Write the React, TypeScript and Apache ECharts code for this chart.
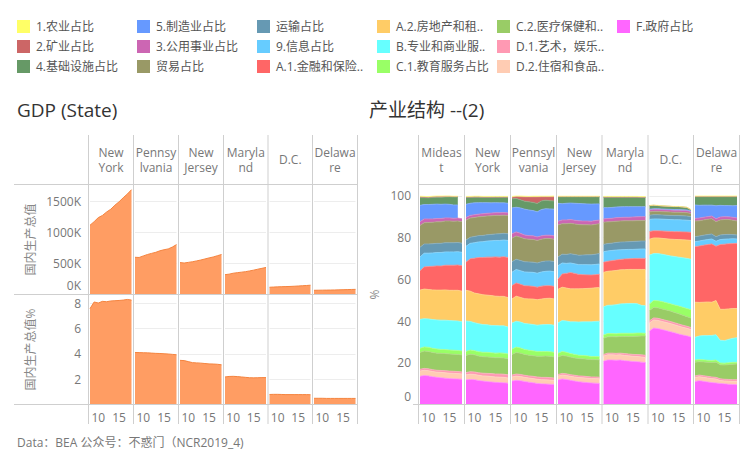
import React, { useEffect, useRef } from 'react';
import * as echarts from 'echarts';

const FONT = "'Open Sans','Noto Sans CJK SC',sans-serif";

// ---------- data ----------
const years = ['2008', '2009', '2010', '2011', '2012', '2013', '2014', '2015', '2016', '2017', '2018'];
const xTickYears = ['2010', '2015'];

// Left: GDP by state (millions of $) and share of US GDP (%)
const gdpStates = ['New\nYork', 'Pennsy\nlvania', 'New\nJersey', 'Maryla\nnd', 'D.C.', 'Delawa\nre'];
const gdpNewYork = [1117000, 1175000, 1240000, 1275000, 1330000, 1375000, 1440000, 1495000, 1560000, 1620000, 1691000];
const gdpPennsylvania = [600000, 597000, 622000, 645000, 663000, 680000, 705000, 722000, 735000, 765000, 805000];
const gdpNewJersey = [515000, 508000, 518000, 528000, 542000, 556000, 573000, 590000, 605000, 625000, 645000];
const gdpMaryland = [320000, 328000, 343000, 352000, 360000, 368000, 380000, 393000, 408000, 422000, 436000];
const gdpDC = [117000, 120000, 123000, 126000, 128000, 130000, 133000, 137000, 141000, 145000, 150000];
const gdpDelaware = [68000, 69000, 70000, 71000, 72000, 73000, 75000, 77000, 79000, 81000, 83000];
const gdpValues = [gdpNewYork, gdpPennsylvania, gdpNewJersey, gdpMaryland, gdpDC, gdpDelaware];

const pctNewYork = [7.56, 8.08, 8.0, 8.13, 8.1, 8.16, 8.18, 8.2, 8.23, 8.28, 8.23];
const pctPennsylvania = [4.1, 4.09, 4.08, 4.07, 4.05, 4.03, 4.02, 4.0, 3.98, 3.95, 3.92];
const pctNewJersey = [3.48, 3.46, 3.38, 3.3, 3.28, 3.26, 3.23, 3.2, 3.19, 3.17, 3.13];
const pctMaryland = [2.17, 2.21, 2.22, 2.2, 2.17, 2.14, 2.11, 2.1, 2.11, 2.12, 2.12];
const pctDC = [0.79, 0.8, 0.8, 0.79, 0.78, 0.78, 0.78, 0.78, 0.78, 0.78, 0.77];
const pctDelaware = [0.49, 0.49, 0.49, 0.48, 0.48, 0.48, 0.48, 0.48, 0.48, 0.48, 0.48];
const pctValues = [pctNewYork, pctPennsylvania, pctNewJersey, pctMaryland, pctDC, pctDelaware];

// Right: industry structure (%)
const regionHeaders = ['Mideas\nt', 'New\nYork', 'Pennsyl\nvania', 'New\nJersey', 'Maryla\nnd', 'D.C.', 'Delawa\nre'];
const categories = [
  '1.农业占比', '2.矿业占比', '4.基础设施占比', '5.制造业占比', '3.公用事业占比', '贸易占比',
  '运输占比', '9.信息占比', 'A.1.金融和保险占比', 'A.2.房地产和租赁占比', 'B.专业和商业服务占比',
  'C.1.教育服务占比', 'C.2.医疗保健和社会援助占比', 'D.1.艺术，娱乐和休闲占比', 'D.2.住宿和食品服务占比', 'F.政府占比',
];
const legendLabels = [
  '1.农业占比', '2.矿业占比', '4.基础设施占比', '5.制造业占比', '3.公用事业占比', '贸易占比',
  '运输占比', '9.信息占比', 'A.1.金融和保险..', 'A.2.房地产和租..', 'B.专业和商业服..',
  'C.1.教育服务占比', 'C.2.医疗保健和..', 'D.1.艺术，娱乐..', 'D.2.住宿和食品..', 'F.政府占比',
];
const categoryColors = [
  '#FFFF66', '#CC6666', '#669966', '#6699FF', '#CC66B3', '#999966',
  '#6699B3', '#66CCFF', '#FF6666', '#FFCC66', '#66FFFF',
  '#99FF66', '#99CC66', '#FF99B3', '#FFCCB3', '#FF66FF',
];

// each row follows the order of `categories`
const shareMideast = [
  [0.3, 0.3, 0.3, 0.3, 0.3, 0.3, 0.2, 0.2, 0.2, 0.2, null],
  [0.4, 0.3, 0.3, 0.3, 0.3, 0.3, 0.3, 0.2, 0.2, 0.2, null],
  [3.7, 3.3, 3.2, 3.3, 3.3, 3.4, 3.4, 3.6, 3.8, 3.8, null],
  [7.8, 6.9, 6.9, 7.0, 6.9, 6.8, 6.6, 6.5, 6.4, 6.3, null],
  [1.8, 1.8, 1.7, 1.6, 1.6, 1.6, 1.5, 1.5, 1.4, 1.4, 1.4],
  [10.5, 10.2, 10.3, 10.3, 10.3, 10.3, 10.4, 10.4, 10.3, 10.3, 10.3],
  [4.6, 4.4, 4.4, 4.4, 4.4, 4.4, 4.4, 4.4, 4.4, 4.4, 4.4],
  [6.7, 6.6, 6.4, 6.4, 6.4, 6.5, 6.4, 6.4, 6.4, 6.4, 6.4],
  [9.2, 10.6, 11.0, 11.3, 11.6, 11.5, 11.8, 12.0, 12.0, 12.1, 12.2],
  [14.0, 14.2, 14.1, 14.2, 14.3, 14.4, 14.5, 14.5, 14.6, 14.7, 14.7],
  [13.9, 13.5, 13.6, 13.8, 13.9, 14.0, 14.1, 14.1, 14.1, 14.1, 14.0],
  [2.0, 2.0, 2.0, 2.0, 2.0, 1.9, 1.9, 1.9, 1.9, 1.9, 1.9],
  [8.0, 8.3, 8.3, 8.2, 8.2, 8.2, 8.2, 8.2, 8.2, 8.2, 8.1],
  [0.9, 0.9, 0.9, 0.9, 0.9, 0.9, 1.0, 1.0, 1.0, 1.0, 1.0],
  [2.5, 2.5, 2.5, 2.5, 2.5, 2.6, 2.6, 2.6, 2.6, 2.6, 2.5],
  [13.5, 13.9, 13.7, 13.3, 13.0, 12.8, 12.6, 12.4, 12.3, 12.2, 12.1],
];
const shareNewYork = [
  [0.3, 0.3, 0.3, 0.3, 0.3, 0.3, 0.3, 0.3, 0.3, 0.3, 0.3],
  [0.2, 0.2, 0.2, 0.2, 0.2, 0.2, 0.2, 0.1, 0.1, 0.1, 0.1],
  [3.3, 2.8, 2.7, 2.6, 2.5, 2.5, 2.6, 2.6, 2.7, 2.7, 2.9],
  [6.3, 5.8, 5.7, 5.5, 5.3, 5.1, 4.9, 4.8, 4.7, 4.6, 4.6],
  [1.3, 1.3, 1.3, 1.3, 1.3, 1.3, 1.3, 1.3, 1.3, 1.3, 1.3],
  [9.5, 9.2, 9.1, 9.0, 9.1, 9.0, 8.9, 8.9, 8.8, 8.7, 8.7],
  [3.0, 2.9, 3.0, 3.0, 3.0, 3.0, 3.1, 3.1, 3.2, 3.2, 3.2],
  [7.6, 7.4, 7.4, 7.5, 7.6, 7.7, 7.8, 7.9, 8.0, 8.0, 8.2],
  [13.5, 15.5, 16.7, 17.4, 17.8, 18.2, 18.4, 18.8, 18.8, 19.0, 19.2],
  [14.7, 14.5, 14.2, 14.3, 14.3, 14.2, 14.3, 14.1, 14.1, 14.1, 14.1],
  [14.6, 13.7, 13.4, 13.4, 13.3, 13.2, 13.1, 13.2, 13.0, 13.1, 12.9],
  [1.9, 2.0, 2.0, 2.1, 2.1, 2.2, 2.2, 2.2, 2.3, 2.3, 2.3],
  [8.2, 8.4, 8.2, 8.0, 7.9, 7.9, 7.8, 7.8, 7.8, 7.8, 7.7],
  [1.1, 1.2, 1.2, 1.2, 1.3, 1.3, 1.4, 1.4, 1.5, 1.5, 1.5],
  [2.4, 2.5, 2.5, 2.5, 2.5, 2.6, 2.6, 2.6, 2.6, 2.6, 2.5],
  [11.8, 12.0, 11.9, 11.5, 11.2, 11.0, 10.8, 10.6, 10.5, 10.4, 10.2],
];
const sharePennsylvania = [
  [0.4, 0.3, 0.4, 0.4, 0.3, 0.4, 0.4, 0.3, 0.3, 0.3, 0.4],
  [0.8, 0.9, 1.4, 2.0, 2.3, 2.6, 3.1, 2.0, 1.6, 1.9, 2.0],
  [4.3, 4.2, 3.9, 3.8, 3.9, 3.9, 4.0, 4.1, 4.1, 3.9, 3.9],
  [12.4, 11.8, 12.2, 12.4, 12.3, 12.1, 12.0, 12.6, 12.7, 12.6, 12.8],
  [2.1, 2.0, 1.9, 1.8, 1.7, 1.7, 1.7, 1.6, 1.6, 1.6, 1.6],
  [11.3, 11.1, 11.1, 11.0, 10.9, 10.9, 10.8, 10.8, 10.8, 10.7, 10.7],
  [5.0, 4.9, 4.9, 4.9, 4.9, 4.9, 4.9, 4.9, 4.9, 4.9, 4.9],
  [6.4, 6.5, 6.5, 6.6, 6.6, 6.7, 6.7, 6.8, 6.9, 7.0, 7.0],
  [6.4, 6.3, 6.3, 6.2, 6.2, 6.1, 6.0, 6.2, 6.1, 6.0, 6.0],
  [11.6, 12.0, 11.8, 11.9, 12.0, 12.2, 12.2, 12.3, 12.5, 12.6, 12.6],
  [12.5, 12.4, 12.4, 12.4, 12.6, 12.6, 12.6, 12.8, 12.9, 13.0, 13.0],
  [2.5, 2.6, 2.5, 2.4, 2.4, 2.3, 2.3, 2.3, 2.2, 2.2, 2.2],
  [9.9, 10.3, 10.2, 10.0, 9.9, 9.9, 9.9, 10.1, 10.2, 10.2, 10.1],
  [0.9, 1.0, 1.0, 1.0, 1.0, 1.1, 1.1, 1.1, 1.2, 1.2, 1.2],
  [2.0, 2.0, 2.0, 2.0, 2.0, 2.0, 2.0, 2.0, 2.0, 2.0, 1.9],
  [11.2, 11.6, 11.4, 11.0, 10.7, 10.4, 10.1, 9.9, 9.8, 9.7, 9.6],
];
const shareNewJersey = [
  [0.2, 0.2, 0.2, 0.2, 0.2, 0.2, 0.2, 0.2, 0.2, 0.2, 0.2],
  [0.1, 0.1, 0.1, 0.1, 0.1, 0.1, 0.1, 0.1, 0.1, 0.1, 0.1],
  [3.1, 3.3, 3.1, 3.0, 3.1, 3.2, 3.3, 3.4, 3.5, 3.4, 3.4],
  [8.6, 7.8, 8.0, 7.9, 8.1, 8.3, 8.3, 8.2, 8.2, 8.0, 7.7],
  [1.8, 1.8, 1.8, 1.8, 1.8, 1.8, 1.8, 1.8, 1.8, 1.8, 1.8],
  [15.3, 14.6, 14.7, 14.6, 14.6, 14.7, 14.5, 14.4, 14.3, 14.3, 14.3],
  [4.2, 4.2, 4.3, 4.4, 4.5, 4.5, 4.6, 4.7, 4.8, 4.9, 5.0],
  [6.5, 5.3, 4.8, 4.6, 4.6, 4.7, 4.8, 4.9, 4.9, 4.9, 4.9],
  [4.8, 6.3, 7.0, 7.8, 7.4, 6.9, 6.7, 6.5, 6.3, 6.3, 6.4],
  [16.1, 16.0, 15.8, 15.8, 15.8, 15.9, 15.9, 16.0, 16.1, 16.1, 16.1],
  [14.6, 14.8, 15.0, 15.2, 15.6, 15.9, 16.1, 16.3, 16.6, 16.8, 17.0],
  [1.8, 1.9, 1.8, 1.7, 1.7, 1.6, 1.6, 1.6, 1.5, 1.5, 1.5],
  [8.3, 8.6, 8.5, 8.4, 8.3, 8.3, 8.3, 8.3, 8.3, 8.3, 8.3],
  [0.8, 0.8, 0.8, 0.8, 0.8, 0.8, 0.8, 0.8, 0.8, 0.8, 0.8],
  [1.8, 1.9, 1.9, 1.9, 2.0, 2.0, 2.1, 2.1, 2.1, 2.2, 2.2],
  [11.8, 12.2, 12.0, 11.6, 11.2, 10.9, 10.7, 10.5, 10.3, 10.2, 10.1],
];
const shareMaryland = [
  [0.3, 0.3, 0.3, 0.3, 0.3, 0.3, 0.3, 0.3, 0.3, 0.3, 0.3],
  [0.1, 0.1, 0.1, 0.1, 0.1, 0.1, 0.1, 0.1, 0.1, 0.1, 0.1],
  [5.0, 5.0, 4.9, 4.7, 4.6, 4.5, 4.5, 4.5, 4.5, 4.4, 4.4],
  [5.4, 5.2, 5.2, 5.1, 5.1, 5.1, 5.1, 5.0, 4.9, 4.8, 4.8],
  [1.6, 1.6, 1.6, 1.7, 1.7, 1.7, 1.7, 1.8, 1.8, 1.9, 1.9],
  [10.6, 10.4, 10.3, 10.2, 10.1, 10.1, 10.0, 9.9, 9.9, 9.8, 9.8],
  [3.5, 3.5, 3.5, 3.6, 3.7, 3.7, 3.7, 3.8, 3.8, 3.8, 3.8],
  [5.1, 5.0, 4.9, 4.8, 4.6, 4.5, 4.5, 4.4, 4.4, 4.5, 4.5],
  [4.8, 4.8, 4.9, 5.0, 5.0, 5.1, 5.1, 5.2, 5.3, 5.3, 5.3],
  [16.5, 16.3, 16.4, 16.4, 16.3, 16.3, 16.3, 16.3, 16.4, 17.2, 17.4],
  [13.5, 13.5, 13.6, 13.9, 14.1, 14.2, 14.3, 14.3, 14.1, 13.3, 13.2],
  [1.6, 1.6, 1.5, 1.5, 1.5, 1.5, 1.5, 1.5, 1.5, 1.4, 1.3],
  [7.7, 7.8, 7.9, 7.9, 8.0, 8.2, 8.4, 8.6, 8.8, 9.0, 9.2],
  [0.8, 0.8, 0.8, 0.8, 0.8, 0.9, 0.9, 0.9, 0.9, 1.0, 1.1],
  [2.5, 2.5, 2.5, 2.5, 2.5, 2.5, 2.5, 2.5, 2.5, 2.5, 2.4],
  [20.7, 21.3, 21.3, 21.2, 21.3, 21.0, 20.8, 20.6, 20.5, 20.3, 20.1],
];
const shareDC = [
  [0.1, 0.1, 0.1, 0.1, 0.1, 0.1, 0.1, 0.1, 0.1, 0.1, 0.1],
  [0, 0, 0, 0, 0, 0, 0, 0, 0, 0, 0],
  [1.7, 1.6, 1.5, 1.4, 1.4, 1.4, 1.4, 1.4, 1.3, 1.2, 0.6],
  [0.3, 0.3, 0.3, 0.3, 0.3, 0.3, 0.3, 0.3, 0.3, 0.3, 0.2],
  [1.0, 1.0, 1.0, 1.0, 1.0, 1.0, 1.0, 1.0, 1.0, 1.0, 1.0],
  [1.6, 1.6, 1.6, 1.6, 1.6, 1.6, 1.6, 1.6, 1.6, 1.6, 1.5],
  [2.0, 2.0, 2.0, 2.0, 2.0, 2.0, 2.0, 2.0, 2.0, 2.0, 1.9],
  [5.8, 5.7, 5.7, 5.7, 5.7, 5.7, 5.7, 5.7, 5.7, 5.7, 5.6],
  [3.7, 3.4, 3.4, 3.5, 3.6, 3.7, 3.7, 3.8, 3.8, 3.8, 3.9],
  [7.6, 7.5, 7.5, 7.6, 7.8, 8.0, 8.2, 8.4, 8.6, 8.8, 9.0],
  [23.4, 22.5, 22.6, 22.7, 22.8, 22.9, 23.2, 23.4, 23.7, 24.0, 24.2],
  [3.2, 3.3, 3.4, 3.5, 3.5, 3.5, 3.6, 3.7, 3.8, 3.9, 4.0],
  [4.9, 5.0, 5.0, 5.0, 5.0, 5.0, 4.9, 4.9, 4.8, 4.6, 4.5],
  [1.0, 1.0, 1.0, 1.0, 1.0, 1.0, 1.0, 1.0, 1.0, 1.0, 1.0],
  [3.9, 3.9, 3.9, 3.9, 3.9, 3.9, 3.8, 3.8, 3.7, 3.6, 3.6],
  [35.2, 36.6, 36.4, 35.9, 35.4, 34.9, 34.4, 33.8, 33.3, 32.9, 32.3],
];
const shareDelaware = [
  [0.3, 0.3, 0.3, 0.3, 0.3, 0.3, 0.3, 0.3, 0.3, 0.3, 0.3],
  [0, 0, 0, 0, 0, 0, 0, 0, 0, 0, 0],
  [4.0, 4.2, 4.1, 4.1, 4.1, 4.4, 4.2, 4.3, 4.3, 4.4, 4.3],
  [6.4, 6.1, 5.8, 5.5, 5.2, 6.2, 5.6, 5.3, 5.4, 5.5, 5.9],
  [1.3, 1.3, 1.3, 1.3, 1.3, 1.4, 1.4, 1.4, 1.3, 1.4, 1.5],
  [7.5, 7.3, 7.3, 7.3, 7.3, 7.2, 7.2, 7.2, 7.1, 6.9, 6.7],
  [2.4, 2.4, 2.4, 2.4, 2.4, 2.2, 2.2, 2.2, 2.2, 2.0, 1.9],
  [2.4, 2.4, 2.4, 2.4, 2.4, 2.4, 2.4, 2.4, 2.3, 2.3, 2.1],
  [26.6, 27.0, 27.3, 27.5, 27.9, 26.0, 31.0, 31.2, 31.2, 31.1, 31.2],
  [16.8, 16.1, 16.0, 16.1, 15.9, 16.4, 14.8, 15.0, 14.6, 14.3, 14.0],
  [10.9, 11.3, 11.6, 11.8, 12.0, 12.1, 10.9, 10.8, 11.2, 11.5, 11.8],
  [1.0, 1.0, 1.0, 1.0, 1.0, 1.0, 0.9, 0.9, 0.9, 0.9, 0.8],
  [6.6, 6.4, 6.6, 6.7, 6.9, 7.3, 6.7, 6.8, 7.1, 7.4, 7.5],
  [0.8, 0.8, 0.8, 0.8, 0.8, 0.8, 0.8, 0.8, 0.8, 0.8, 0.8],
  [1.9, 1.9, 1.9, 1.9, 1.9, 1.9, 1.4, 1.4, 1.5, 1.5, 1.6],
  [11.0, 11.4, 11.1, 10.8, 10.5, 10.3, 10.1, 9.9, 9.7, 9.6, 9.5],
];
const regionShares = [shareMideast, shareNewYork, sharePennsylvania, shareNewJersey, shareMaryland, shareDC, shareDelaware];

// ---------- layout ----------
const LX = [88.5, 133.5, 178.5, 223.5, 268, 312.5, 357.5];
const RX = [418.5, 464.5, 510.5, 556.5, 602, 648, 693.5, 739.5];
const HEAD_TOP = 135;
const HEAD_BOTTOM = 184.5;
const ROW_MID = 294.5;
const PLOT_BOTTOM = 404.5;
const TICK_BOTTOM = 424;
const FRAME = '#cfcfcf';
const GRIDLINE = '#ededed';
const LABEL = '#777';

function buildOption() {
  const grid: any[] = [];
  const xAxis: any[] = [];
  const yAxis: any[] = [];
  const series: any[] = [];

  const makeX = (gi: number, show: boolean) => ({
    type: 'category', gridIndex: gi, data: years, boundaryGap: false,
    axisLine: { show: false }, axisTick: { show: false }, splitLine: { show: false },
    axisLabel: {
      show, margin: 7, color: LABEL, fontSize: 12, fontFamily: FONT,
      interval: (_i: number, v: string) => xTickYears.indexOf(v) >= 0,
      formatter: (v: string) => v.slice(2),
    },
  });
  const makeY = (gi: number, o: any) => ({
    type: 'value', gridIndex: gi, min: 0, max: o.max, interval: o.interval,
    axisLine: { show: false }, axisTick: { show: false },
    splitLine: { show: true, lineStyle: { color: GRIDLINE, width: 1 } },
    name: o.name || '', nameLocation: 'middle', nameGap: o.nameGap || 50,
    nameTextStyle: { color: '#888', fontSize: 12, fontFamily: FONT },
    axisLabel: {
      show: o.show, margin: 9, color: LABEL, fontSize: 12, fontFamily: FONT,
      formatter: o.fmt,
      rich: { z: { padding: [0, 0, o.zPad || 0, 0], color: LABEL, fontSize: 12, fontFamily: FONT } },
    },
  });

  // ---- left: GDP (State)
  gdpStates.forEach((_, i) => {
    const left = LX[i] + 1.5;
    const width = LX[i + 1] - LX[i] - 3.5;
    const gTop = grid.length;
    grid.push({ left, width, top: HEAD_BOTTOM, height: ROW_MID - HEAD_BOTTOM, outerBoundsMode: 'none' });
    xAxis.push(makeX(gTop, false));
    yAxis.push(makeY(gTop, {
      max: 1774000, interval: 500000, show: i === 0, zPad: 18,
      name: i === 0 ? '国内生产总值' : '', nameGap: 54,
      fmt: (v: number) => (v === 0 ? '{z|0K}' : v % 500000 === 0 ? v / 1000 + 'K' : ''),
    }));
    series.push({
      type: 'line', xAxisIndex: gTop, yAxisIndex: gTop, symbol: 'none', silent: true,
      data: gdpValues[i],
      lineStyle: { color: '#F5843F', width: 1 }, itemStyle: { color: '#FF9D63' },
      areaStyle: { color: '#FF9D63', opacity: 1 },
    });

    const gBot = grid.length;
    grid.push({ left, width, top: ROW_MID, height: PLOT_BOTTOM - ROW_MID, outerBoundsMode: 'none' });
    xAxis.push(makeX(gBot, true));
    yAxis.push(makeY(gBot, {
      max: 8.67, interval: 2, show: i === 0,
      name: i === 0 ? '国内生产总值%' : '', nameGap: 54,
      fmt: (v: number) => (v === 0 ? '' : v % 2 === 0 ? String(v) : ''),
    }));
    series.push({
      type: 'line', xAxisIndex: gBot, yAxisIndex: gBot, symbol: 'none', silent: true,
      data: pctValues[i],
      lineStyle: { color: '#F5843F', width: 1 }, itemStyle: { color: '#FF9D63' },
      areaStyle: { color: '#FF9D63', opacity: 1 },
    });
  });

  // ---- right: 产业结构
  regionShares.forEach((shares, r) => {
    const gi = grid.length;
    grid.push({ left: RX[r] + 1.5, width: RX[r + 1] - RX[r] - 4, top: HEAD_BOTTOM, height: PLOT_BOTTOM - HEAD_BOTTOM, outerBoundsMode: 'none' });
    xAxis.push(makeX(gi, true));
    yAxis.push(makeY(gi, {
      max: 105.4, interval: 20, show: r === 0, zPad: 16,
      name: r === 0 ? '%' : '', nameGap: 40,
      fmt: (v: number) => (v === 0 ? '{z|0}' : v % 20 === 0 ? String(v) : ''),
    }));
    for (let c = categories.length - 1; c >= 0; c--) {
      const col = categoryColors[c];
      series.push({
        type: 'line', name: categories[c], xAxisIndex: gi, yAxisIndex: gi, stack: 'region' + r,
        symbol: 'none', silent: true,
        data: shares[c],
        itemStyle: { color: col },
        lineStyle: { color: echarts.color.lift(col, 0.22), width: 0.8 },
        areaStyle: { color: col, opacity: 1 },
      });
    }
  });

  // ---- legends (one per column, 3 rows)
  const legend: any[] = [];
  for (let c = 0; c * 3 < categories.length; c++) {
    legend.push({
      orient: 'vertical', left: 17 + c * 120, top: 20, padding: 0, itemGap: 7,
      itemWidth: 13, itemHeight: 13, icon: 'rect', selectedMode: false,
      itemStyle: { borderWidth: 0 },
      data: categories.slice(c * 3, c * 3 + 3),
      formatter: (name: string) => legendLabels[categories.indexOf(name)],
      textStyle: { color: '#555', fontSize: 12, fontFamily: FONT, padding: [0, 0, 0, 1] },
    });
  }

  // ---- frame lines & headers
  const graphic: any[] = [];
  const line = (x1: number, y1: number, x2: number, y2: number) => ({
    type: 'line', silent: true, z: 50, shape: { x1, y1, x2, y2 }, style: { stroke: FRAME, lineWidth: 1 },
  });
  LX.forEach((x) => graphic.push(line(x, HEAD_TOP, x, TICK_BOTTOM)));
  RX.forEach((x) => graphic.push(line(x, HEAD_TOP, x, TICK_BOTTOM)));
  graphic.push(line(14, HEAD_BOTTOM, LX[LX.length - 1], HEAD_BOTTOM));
  graphic.push(line(14, ROW_MID, LX[LX.length - 1], ROW_MID));
  graphic.push(line(14, PLOT_BOTTOM, LX[LX.length - 1], PLOT_BOTTOM));
  graphic.push(line(RX[0], HEAD_BOTTOM, RX[RX.length - 1], HEAD_BOTTOM));
  graphic.push(line(413, PLOT_BOTTOM, RX[RX.length - 1], PLOT_BOTTOM));
  const header = (text: string, cx: number) => ({
    type: 'text', silent: true, x: cx, y: (HEAD_TOP + HEAD_BOTTOM) / 2,
    style: { text, align: 'center', verticalAlign: 'middle', fill: LABEL, fontSize: 12, lineHeight: 15.5, fontFamily: FONT },
  });
  gdpStates.forEach((s, i) => graphic.push(header(s, (LX[i] + LX[i + 1]) / 2)));
  regionHeaders.forEach((s, i) => graphic.push(header(s, (RX[i] + RX[i + 1]) / 2)));

  return {
    animation: false,
    textStyle: { fontFamily: FONT },
    title: [
      { text: 'GDP (State)', left: 17, top: 100, padding: 0, textStyle: { fontSize: 19, fontWeight: 'normal', color: '#333', fontFamily: FONT } },
      { text: '产业结构 --(2)', left: 369, top: 100, padding: 0, textStyle: { fontSize: 19, fontWeight: 'normal', color: '#333', fontFamily: FONT } },
      { text: 'Data：BEA 公众号：不惑门（NCR2019_4)', left: 17, top: 436, padding: 0, textStyle: { fontSize: 12, fontWeight: 'normal', color: '#777', fontFamily: FONT } },
    ],
    legend,
    grid,
    xAxis,
    yAxis,
    series,
    graphic,
  };
}

export default function App() {
  const ref = useRef<HTMLDivElement>(null);
  useEffect(() => {
    if (!ref.current) return;
    const chart = echarts.init(ref.current, null, { renderer: 'svg' });
    chart.setOption(buildOption() as any);
    return () => chart.dispose();
  }, []);
  return <div ref={ref} style={{ position: 'absolute', left: 0, top: 0, width: 753, height: 462 }} />;
}
